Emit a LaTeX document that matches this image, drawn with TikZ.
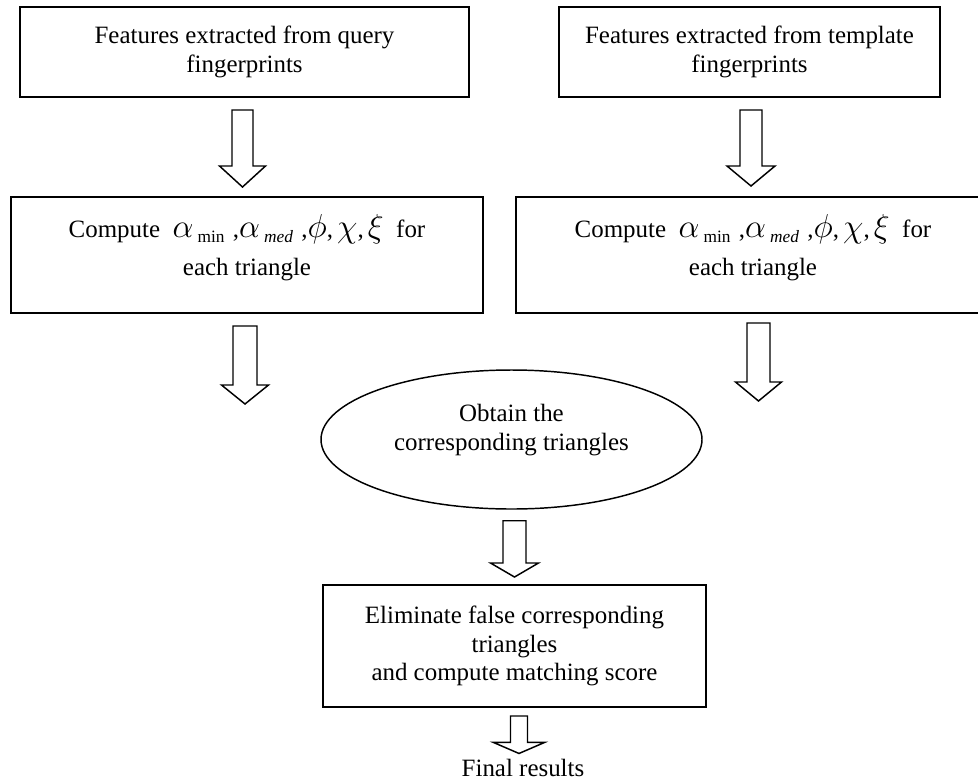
\documentclass[tikz,border=0pt]{standalone}
\usepackage{fontspec}
\setmainfont{Liberation Serif}
\usetikzlibrary{calc,shapes.geometric}
\newcommand{\gsym}[1]{{\fontsize{24}{24}\selectfont$#1$}}
\newcommand{\subtxt}[1]{\raisebox{-4pt}{\fontsize{13}{13}\selectfont #1}}
\newcommand{\formula}{Compute\ \ \gsym{\alpha}\,\subtxt{min}\,\,,\gsym{\alpha}\,\subtxt{\itshape med}\,\,,\gsym{\phi},\,\gsym{\chi},\,\gsym{\xi}\ \ for}
\newcommand{\hollowarrow}[5]{%
  \draw[blockarr] ($(#1)+(-#3,0)$) -- ($(#2)+(-#3,-#5)$) -- ($(#2)+(-#4,-#5)$) -- (#2)
    -- ($(#2)+(#4,-#5)$) -- ($(#2)+(#3,-#5)$) -- ($(#1)+(#3,0)$) -- cycle;}
\begin{document}
\begin{tikzpicture}[x=0.75pt,y=-0.75pt,
  txt/.style={font=\fontsize{18.7}{21.4}\selectfont, align=center},
  box/.style={txt, draw, line width=1.5pt, rectangle, inner sep=0pt},
  ell/.style={txt, draw, line width=1.1pt, ellipse, inner sep=0pt},
  blockarr/.style={draw, line width=1.1pt, fill=white, line join=miter}]
\useasboundingbox (0,0) rectangle (978,783);
\clip (0,0) rectangle (978,783);

\node[box, minimum width=336.75pt, minimum height=67.5pt] (tl) at (244.5,52)
  {Features extracted from query\\fingerprints};
\node[box, minimum width=285.75pt, minimum height=67.5pt] (tr) at (749.5,52)
  {Features extracted from template\\fingerprints};
\node[box, minimum width=354pt, minimum height=87pt] (ml) at (247,255)
  {\formula\\[7pt]each triangle\\[-12.4pt]\strut};
\node[box, minimum width=355.5pt, minimum height=87pt] (mr) at (753,255)
  {\formula\\[7pt]each triangle\\[-12.4pt]\strut};
\node[ell, minimum width=285.75pt, minimum height=104.25pt] (el) at (511.5,439.5)
  {Obtain the\\corresponding triangles\\[-9.4pt]\strut};
\node[box, minimum width=287.25pt, minimum height=91.5pt] (bb) at (514.5,646)
  {Eliminate false corresponding\\triangles\\and compute matching score};
\node[txt, inner sep=0pt] (fr) at (523,767.5) {Final results};

\coordinate (a1s) at ($(tl.south)+(-2,12)$);
\coordinate (a1e) at ($(ml.north)+(-4.5,-9)$);
\coordinate (a2s) at ($(tr.south)+(1.5,12)$);
\coordinate (a2e) at ($(mr.north)+(-2,-10)$);
\coordinate (a3s) at ($(ml.south)+(-2,12)$);
\coordinate (a3e) at ($(ml.south)+(-2,90)$);
\coordinate (a4s) at ($(mr.south)+(5.5,9)$);
\coordinate (a4e) at ($(mr.south)+(5.5,87)$);
\coordinate (a5s) at ($(el.south)+(3,11)$);
\coordinate (a5e) at ($(bb.north)+(0,-7)$);
\coordinate (a6s) at ($(bb.south)+(4.5,8)$);
\coordinate (a6e) at ($(fr.north)+(-4,-5)$);

\hollowarrow{a1s}{a1e}{10.5}{23}{21}
\hollowarrow{a2s}{a2e}{11}{24}{20}
\hollowarrow{a3s}{a3e}{12}{23.5}{19}
\hollowarrow{a4s}{a4e}{11.5}{23}{19}
\hollowarrow{a5s}{a5e}{11.5}{24}{14}
\hollowarrow{a6s}{a6e}{8.5}{25.5}{11}
\end{tikzpicture}
\end{document}
